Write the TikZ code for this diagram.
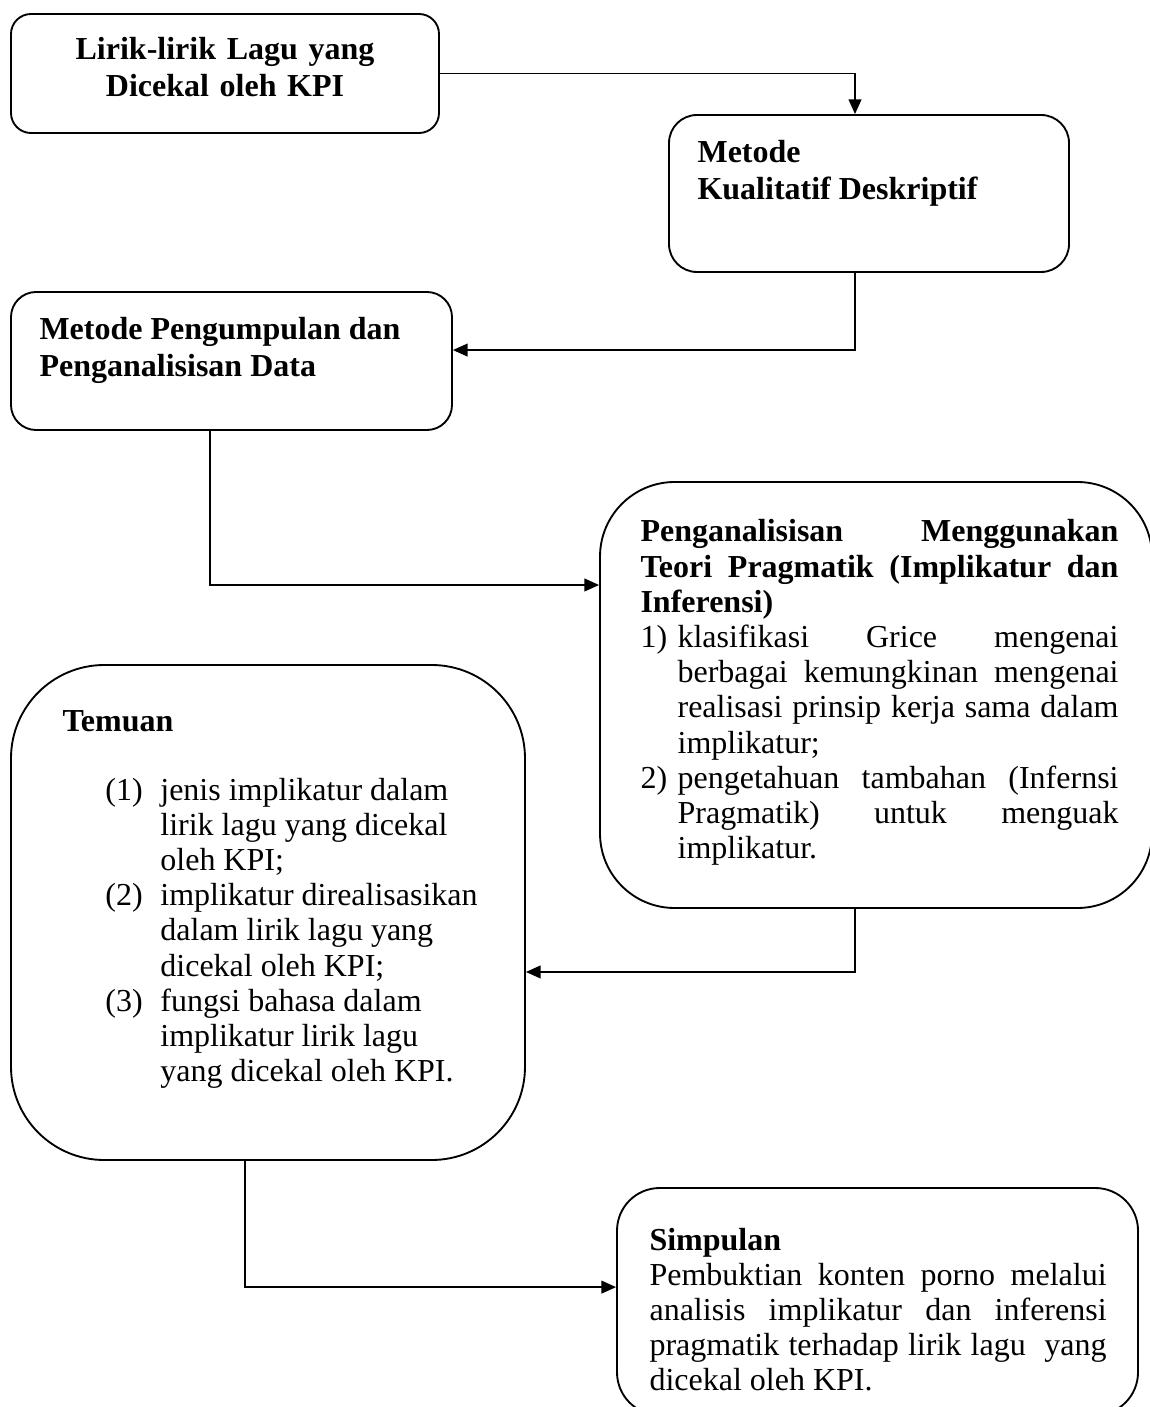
\documentclass[tikz,border=0pt]{standalone}
\usepackage{fontspec}
\setmainfont{Liberation Serif}
\usetikzlibrary{fit,arrows.meta}
\newcommand{\fitline}[2]{\makebox[#1][s]{#2}}

\begin{document}
\begin{tikzpicture}[x=0.375pt, y=-0.375pt,
    box/.style={draw, line width=0.7pt, inner sep=0pt},
    txt/.style={inner sep=0pt, anchor=base west, align=left, font=\fontsize{12}{13.2}\selectfont,
        execute at begin node={\spaceskip=0pt\xspaceskip=0pt\relax}},
    arr/.style={-{Triangle[length=5.5pt,width=4.8pt]}, line width=0.55pt}]
\useasboundingbox (0,0) rectangle (1149,1407);

\node[box, rounded corners=7.5pt, fit={(11,14) (439,133)}] (lirik) {};
\node[box, rounded corners=10.5pt, fit={(669,115) (1069,272)}] (metode) {};
\node[box, rounded corners=9.4pt, fit={(11,292) (452,430)}] (pengumpulan) {};
\node[box, rounded corners=28pt, fit={(600,482) (1152,908)}] (teori) {};
\node[box, rounded corners=35pt, fit={(11,665) (525,1160)}] (temuan) {};
\node[box, rounded corners=16pt, fit={(617,1188) (1138,1415)}] (simpulan) {};

\node[inner sep=0pt, anchor=base, align=center, text width=160.5pt, font=\fontsize{12}{13.8}\selectfont\bfseries] (lirikT) at (225,60) {Lirik-lirik Lagu yang\\Dicekal oleh KPI};
\node[txt, text width=140pt, font=\fontsize{12}{13.8}\selectfont\bfseries] (metodeT) at (697,163) {Metode\\Kualitatif Deskriptif};
\node[txt, text width=160pt, font=\fontsize{12}{13.8}\selectfont\bfseries] (pengumpulanT) at (39,340) {Metode Pengumpulan dan\\Penganalisisan Data};
\node[txt, text width=179.25pt] (teoriT) at (640,542) {%
\textbf{\fitline{179.25pt}{Penganalisisan Menggunakan}}\\
\textbf{\fitline{179.25pt}{Teori Pragmatik (Implikatur dan}}\\
\textbf{Inferensi)}\\
\makebox[13.9pt][l]{1)}\fitline{165.35pt}{klasifikasi Grice mengenai}\\
\hspace*{13.9pt}\fitline{165.35pt}{berbagai kemungkinan mengenai}\\
\hspace*{13.9pt}\fitline{165.35pt}{realisasi prinsip kerja sama dalam}\\
\hspace*{13.9pt}implikatur;\\
\makebox[13.9pt][l]{2)}\fitline{165.35pt}{pengetahuan tambahan (Infernsi}\\
\hspace*{13.9pt}\fitline{165.35pt}{Pragmatik) untuk menguak}\\
\hspace*{13.9pt}implikatur.};
\node[txt, text width=170pt] (temuanT) at (62,731) {%
\textbf{Temuan}\\[12.7pt]
\hspace*{16.1pt}\makebox[20.6pt][l]{(1)}jenis implikatur dalam\\
\hspace*{36.7pt}lirik lagu yang dicekal\\
\hspace*{36.7pt}oleh KPI;\\
\hspace*{16.1pt}\makebox[20.6pt][l]{(2)}implikatur direalisasikan\\
\hspace*{36.7pt}dalam lirik lagu yang\\
\hspace*{36.7pt}dicekal oleh KPI;\\
\hspace*{16.1pt}\makebox[20.6pt][l]{(3)}fungsi bahasa dalam\\
\hspace*{36.7pt}implikatur lirik lagu\\
\hspace*{36.7pt}yang dicekal oleh KPI.};
\node[txt, text width=171.4pt] (simpulanT) at (649,1250) {%
\textbf{Simpulan}\\
\fitline{171.4pt}{Pembuktian konten porno melalui}\\
\fitline{171.4pt}{analisis implikatur dan inferensi}\\
\fitline{171.4pt}{pragmatik terhadap lirik lagu\ \ yang}\\
dicekal oleh KPI.};

\draw[arr] (lirik.east) -| ([xshift=-5.25pt]metode.north);
\draw[arr] ([xshift=-5.25pt]metode.south) |- ([yshift=4.1pt]pengumpulan.east);
\draw[arr] ([xshift=-8.06pt]pengumpulan.south) |- ([yshift=41.25pt]teori.west);
\draw[arr] ([xshift=-7.9pt]teori.south) |- ([yshift=-22.3pt]temuan.east);
\draw[arr] ([xshift=-8.6pt]temuan.south) |- ([yshift=5.4pt]simpulan.west);
\end{tikzpicture}
\end{document}
